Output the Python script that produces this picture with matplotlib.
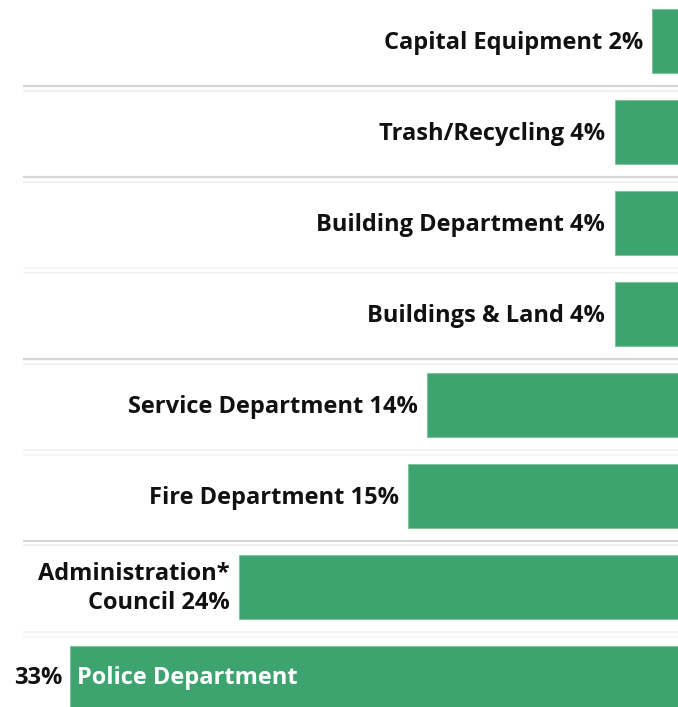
import matplotlib.pyplot as plt

# budget share by department, top to bottom as in the picture
depts = ["Capital Equipment", "Trash/Recycling", "Building Department",
         "Buildings & Land", "Service Department", "Fire Department",
         "Administration*\nCouncil", "Police Department"]
shares = [2, 4, 4, 4, 14, 15, 24, 33]

# separators between rows: strong (double grey) vs faint
strong_seps = [0.5, 1.5, 3.5, 5.5]
faint_seps = [2.5, 4.5, 6.5]

green = "#3da470"
plt.rcParams['font.family'] = ['Open Sans', 'DejaVu Sans']

fig = plt.figure(figsize=(6.78, 7.07), dpi=100)
ax = fig.add_axes([0, 0, 1, 1])

y = list(range(len(depts)))
ax.barh(y, shares, height=0.70, color=green, edgecolor="#7fc29c", linewidth=0.8)

for s in strong_seps:
    ax.axhline(s, xmin=0.035, xmax=1, color="#d6d6d6", lw=1.6)
    ax.axhline(s + 0.045, xmin=0.035, xmax=1, color="#eeeeee", lw=1.2)
for s in faint_seps:
    ax.axhline(s, xmin=0.035, xmax=1, color="#f1f1f1", lw=1.2)
    ax.axhline(s + 0.05, xmin=0.035, xmax=1, color="#f5f5f5", lw=1.2)

fs = 17
for i, (d, v) in enumerate(zip(depts, shares)):
    if i == len(depts) - 1:
        ax.text(v + 0.42, i, f"{v}%", ha="right", va="center",
                fontsize=fs, fontweight="bold", color="#111111")
        ax.text(v - 0.37, i, d, ha="left", va="center",
                fontsize=fs, fontweight="bold", color="white")
    else:
        ax.text(v + 0.5, i + 0.02, f"{d} {v}%", ha="right", va="center",
                fontsize=fs, fontweight="bold", color="#111111",
                multialignment="right", linespacing=1.3)

ax.set_xlim(36.74, 0.63)
ax.set_ylim(7.32, -0.45)
ax.axis("off")

plt.savefig("out.png", dpi=100)
